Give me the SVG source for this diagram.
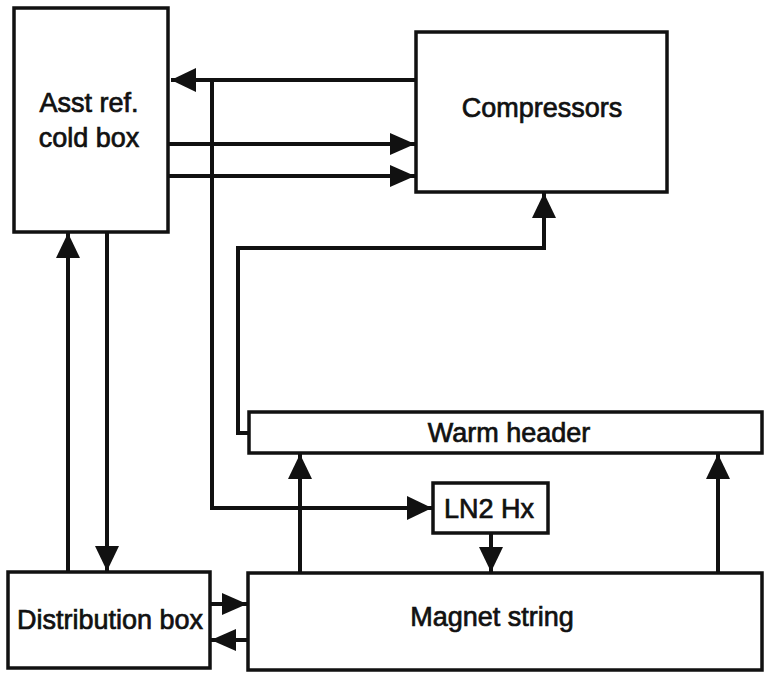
<svg xmlns="http://www.w3.org/2000/svg" width="764" height="673" viewBox="0 0 764 673">
<style>
.box{fill:#fff;stroke:#111;stroke-width:3.5}
.ln{fill:none;stroke:#111;stroke-width:4;stroke-linejoin:miter}
.t{font-family:"Liberation Sans",Arial,sans-serif;font-size:27px;fill:#111;stroke:#111;stroke-width:0.7;text-anchor:middle}
</style>
<defs>
<marker id="a" viewBox="0 0 25 24" refX="25" refY="12" markerWidth="25" markerHeight="24" markerUnits="userSpaceOnUse" orient="auto">
<path d="M0,0 L25,12 L0,24 Z" fill="#111"/>
</marker>
<marker id="s" viewBox="0 0 25 22" refX="25" refY="11" markerWidth="25" markerHeight="22" markerUnits="userSpaceOnUse" orient="auto">
<path d="M0,0 L25,11 L0,22 Z" fill="#111"/>
</marker>
</defs>
<rect width="764" height="673" fill="#fff"/>
<g id="connectors">
<path class="ln" d="M416,80 L171,80" marker-end="url(#a)"/>
<path class="ln" d="M212,80 L212,508 L432,508" marker-end="url(#a)"/>
<path class="ln" d="M168,144 L415,144" marker-end="url(#s)"/>
<path class="ln" d="M168,176 L415,176" marker-end="url(#s)"/>
<path class="ln" d="M249,433 L238,433 L238,248 L544,248 L544,193" marker-end="url(#a)"/>
<path class="ln" d="M68,572 L68,233" marker-end="url(#a)"/>
<path class="ln" d="M107,232 L107,571" marker-end="url(#a)"/>
<path class="ln" d="M210,604 L247,604" marker-end="url(#s)"/>
<path class="ln" d="M248,640 L211,640" marker-end="url(#s)"/>
<path class="ln" d="M491,533 L491,572" marker-end="url(#a)"/>
<path class="ln" d="M300,573 L300,454" marker-end="url(#a)"/>
<path class="ln" d="M718,573 L718,454" marker-end="url(#a)"/>
</g>
<g id="coldbox">
<rect class="box" x="14" y="8" width="154" height="224"/>
<text class="t" x="89" y="112">Asst ref.</text>
<text class="t" x="89" y="147">cold box</text>
</g>
<g id="compressors">
<rect class="box" x="416" y="32" width="251" height="160"/>
<text class="t" x="542" y="117">Compressors</text>
</g>
<g id="warmheader">
<rect class="box" x="249" y="412" width="513" height="41"/>
<text class="t" x="509" y="442">Warm header</text>
</g>
<g id="ln2hx">
<rect class="box" x="433" y="483" width="115" height="50"/>
<text class="t" x="489" y="518">LN2 Hx</text>
</g>
<g id="distribution">
<rect class="box" x="8" y="572" width="202" height="96"/>
<text class="t" x="110" y="629">Distribution box</text>
</g>
<g id="magnet">
<rect class="box" x="248" y="573" width="514" height="97"/>
<text class="t" x="492" y="626">Magnet string</text>
</g>
</svg>
